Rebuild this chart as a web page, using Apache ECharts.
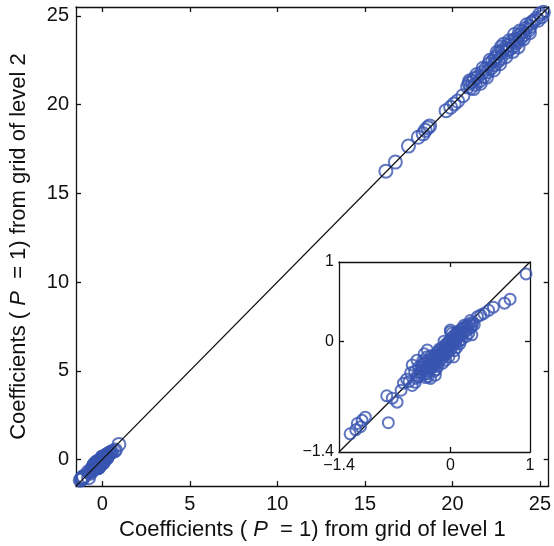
<!DOCTYPE html>
<html>
<head>
<meta charset="utf-8">
<script src="https://cdn.jsdelivr.net/npm/echarts@6/dist/echarts.min.js"></script>
<style>
  html, body { margin: 0; padding: 0; background: #fff; }
  #chart { width: 554px; height: 546px; }
</style>
</head>
<body>
<div id="chart"></div>
<script>
// coefficients near zero (shown in main plot and in the inset)
const lowX = [0.95, 0.75, 0.68, 0.54, 0.48, 0.42, 0.38, 0.34, 0.27, 0.04, -0.19, -0.52, -0.59, -0.48,
  -0.80, -0.73, -0.67, -0.78, -1.26, -1.19, -1.13, -1.07, -1.11, -1.17,
  0.00, 0.08, 0.21, 0.27, -0.48, -0.42, -0.33, -0.29, -0.38, -0.29, -0.25,
  -0.45, -0.42, -0.40, -0.38, -0.36, -0.35, -0.33, -0.32, -0.30, -0.29, -0.27, -0.26, -0.25,
  -0.23, -0.22, -0.21, -0.20, -0.19, -0.18, -0.17, -0.16, -0.15, -0.14, -0.13, -0.12, -0.11,
  -0.10, -0.09, -0.08, -0.07, -0.06, -0.05, -0.04, -0.03, -0.02, -0.01, 0.00, 0.01, 0.02,
  0.03, 0.04, 0.05, 0.06, 0.07, 0.08, 0.09, 0.10, 0.11, 0.12, 0.13, 0.15, 0.16, 0.18, 0.19,
  0.21, 0.22, 0.24, 0.26, 0.28, 0.30, 0.00, -0.43, -0.31, -0.18, -0.06, 0.08,
  -0.40, -0.35, -0.28, -0.24, -0.20, -0.14, -0.10, -0.05, -0.02, 0.02, 0.05, 0.10, 0.14, 0.17,
  0.20, 0.25, 0.23, -0.30, -0.16, -0.08, 0.12, -0.55, -0.62, -0.50, -0.44,
  -0.27, -0.23, -0.19, -0.15, -0.11, -0.07, -0.03, 0.01, 0.05, 0.09, 0.13, -0.25, -0.21, -0.17,
  -0.13, -0.09, -0.05, -0.01, 0.03, 0.07, 0.11, -0.34, -0.31, -0.37]
const lowY = [0.85, 0.53, 0.48, 0.43, 0.39, 0.35, 0.33, 0.31, 0.08, -0.20, -0.43, -0.51, -0.53, -0.56,
  -0.69, -0.72, -0.77, -1.03, -1.17, -1.12, -1.08, -0.96, -1.00, -1.04,
  0.14, 0.10, 0.18, 0.20, -0.30, -0.24, -0.16, -0.11, -0.43, -0.41, -0.47,
  -0.38, -0.44, -0.33, -0.40, -0.30, -0.36, -0.42, -0.27, -0.33, -0.38, -0.24, -0.30, -0.35,
  -0.20, -0.27, -0.32, -0.22, -0.17, -0.28, -0.24, -0.14, -0.20, -0.26, -0.11, -0.17, -0.22,
  -0.08, -0.14, -0.19, -0.05, -0.11, -0.16, -0.02, -0.08, -0.13, 0.01, -0.05, -0.10, 0.04,
  -0.02, 0.07, 0.01, -0.04, 0.10, 0.04, 0.12, 0.06, 0.00, 0.14, 0.08, 0.16, 0.10, 0.18, 0.12,
  0.20, 0.15, 0.22, 0.17, 0.24, 0.21, 0.12, -0.47, -0.46, -0.36, -0.24, -0.08,
  -0.45, -0.25, -0.45, -0.18, -0.38, -0.10, -0.28, -0.04, -0.20, 0.10, -0.12, 0.12, 0.02, 0.20,
  0.06, 0.26, 0.10, -0.20, -0.32, 0.00, -0.03, -0.48, -0.62, -0.40, -0.52,
  -0.31, -0.26, -0.22, -0.18, -0.14, -0.10, -0.06, -0.02, 0.02, 0.06, 0.10, -0.35, -0.29, -0.23,
  -0.19, -0.15, -0.11, -0.07, -0.03, 0.01, 0.05, -0.28, -0.37, -0.33]

// large coefficients
const highX = [16.2, 16.74, 17.49, 18.05, 18.33, 18.45, 18.6, 18.7, 19.64, 19.9, 20.1, 20.3, 20.6,
  20.87, 20.95, 21.05, 21.15, 21.3, 21.45, 21.55, 21.7, 21.8, 21.9, 22.0, 22.1, 22.2, 22.3, 22.4,
  22.5, 22.6, 22.65, 22.75, 22.85, 22.93, 23.0, 23.1, 23.2, 23.3, 23.4, 23.5, 23.6, 23.7, 23.8,
  23.9, 24.0, 24.1, 24.2, 24.35, 24.5, 24.62, 24.8, 25.0, 25.1,
  21.0, 21.2, 21.4, 21.6, 21.75, 21.95, 22.15, 22.35, 22.55, 22.7, 22.8, 23.05, 23.25, 23.45,
  23.55, 23.75, 23.85, 24.05, 24.25, 24.4, 21.25, 22.45, 23.15, 23.65, 24.45, 24.9, 25.2]
const highY = [16.25, 16.76, 17.66, 18.16, 18.35, 18.55, 18.7, 18.8, 19.66, 19.85, 20.04, 20.2, 20.5,
  21.0, 21.2, 20.95, 21.3, 21.15, 21.55, 21.35, 21.8, 21.6, 22.0, 21.85, 22.3, 22.05, 22.45, 22.25,
  22.7, 22.45, 22.9, 22.6, 23.0, 23.4, 23.2, 22.95, 23.35, 23.15, 23.55, 23.3, 23.7, 23.5, 23.9,
  23.75, 24.1, 23.95, 24.3, 24.2, 24.6, 24.7, 24.85, 25.1, 24.95,
  21.35, 20.9, 21.7, 21.2, 22.05, 21.55, 22.5, 21.95, 22.95, 22.3, 23.25, 22.7, 23.6, 23.0,
  23.95, 23.25, 24.15, 23.7, 24.5, 24.05, 21.45, 22.6, 23.1, 23.6, 24.4, 24.75, 25.2]

// y = x reference lines
const mainLine = [-1.5, 25.5]
const insetLine = [-1.4, 1]

const mainTicks = [0, 5, 10, 15, 20, 25]
const insetLabels = [-1.4, 0, 1]
const insetTicks = [0]

const blue = '#3855b0'
const font = 'Liberation Sans, Arial, sans-serif'
const minus = v => String(v).replace('-', '\u2212')

const pairs = (xs, ys) => xs.map((x, i) => [x, ys[i]])

const frameAxis = (gridIndex, min, max, ticks, labels, showLabel, pos, size, margin) => ({
  gridIndex: gridIndex,
  type: 'value',
  position: pos,
  min: min,
  max: max,
  splitLine: { show: false },
  axisLine: { show: true, onZero: false, lineStyle: { color: '#111', width: 1.3 } },
  axisTick: { show: true, inside: true, length: 5, customValues: ticks, lineStyle: { color: '#111', width: 1.3 } },
  axisLabel: {
    show: showLabel, customValues: labels, formatter: minus,
    color: '#111', fontFamily: font, fontSize: size, margin: margin
  }
})

const chart = echarts.init(document.getElementById('chart'))

const nameStyle = {
  color: '#111', fontFamily: font, fontSize: 22,
  rich: { i: { fontStyle: 'italic', fontFamily: font, fontSize: 22, color: '#111' } }
}

const xMain = frameAxis(0, -1.5, 25.5, mainTicks, mainTicks, true, 'bottom', 20, 8)
xMain.name = 'Coefficients ( {i|P}  = 1) from grid of level 1'
xMain.nameLocation = 'middle'
xMain.nameGap = 25
xMain.nameTextStyle = nameStyle

const yMain = frameAxis(0, -1.5, 25.5, mainTicks, mainTicks, true, 'left', 20, 7)
yMain.name = 'Coefficients ( {i|P}  = 1) from grid of level 2'
yMain.nameLocation = 'middle'
yMain.nameGap = 46
yMain.nameTextStyle = nameStyle

const circle = {
  type: 'scatter',
  symbol: 'circle',
  itemStyle: { color: 'rgba(0,0,0,0)', borderColor: blue, borderWidth: 2 }
}

chart.setOption({
  animation: false,
  backgroundColor: '#fff',
  grid: [
    { left: 72, top: 7, right: 2, bottom: 57 },
    { left: 339, top: 262, width: 191, height: 190, show: true, backgroundColor: '#fff', borderWidth: 0, z: 5 }
  ],
  xAxis: [
    xMain,
    frameAxis(0, -1.5, 25.5, mainTicks, mainTicks, false, 'top', 20, 8),
    Object.assign(frameAxis(1, -1.4, 1, insetTicks, insetLabels, true, 'bottom', 16, 6), { z: 6 }),
    Object.assign(frameAxis(1, -1.4, 1, insetTicks, insetLabels, false, 'top', 16, 6), { z: 6 })
  ],
  yAxis: [
    yMain,
    frameAxis(0, -1.5, 25.5, mainTicks, mainTicks, false, 'right', 20, 8),
    Object.assign(frameAxis(1, -1.4, 1, insetTicks, insetLabels, true, 'left', 16, 5), { z: 6 }),
    Object.assign(frameAxis(1, -1.4, 1, insetTicks, insetLabels, false, 'right', 16, 5), { z: 6 })
  ],
  series: [
    {
      type: 'line', xAxisIndex: 0, yAxisIndex: 0,
      data: pairs(mainLine, mainLine), symbol: 'none',
      lineStyle: { color: '#111', width: 1.3 }
    },
    Object.assign({}, circle, { xAxisIndex: 0, yAxisIndex: 0, symbolSize: 13, data: pairs(lowX, lowY) }),
    Object.assign({}, circle, { xAxisIndex: 0, yAxisIndex: 0, symbolSize: 13, data: pairs(highX, highY) }),
    {
      type: 'line', xAxisIndex: 2, yAxisIndex: 2, z: 7,
      data: pairs(insetLine, insetLine), symbol: 'none',
      lineStyle: { color: '#111', width: 1.3 }
    },
    Object.assign({}, circle, { xAxisIndex: 2, yAxisIndex: 2, z: 8, symbolSize: 11, data: pairs(lowX, lowY) })
  ]
})
</script>
</body>
</html>
